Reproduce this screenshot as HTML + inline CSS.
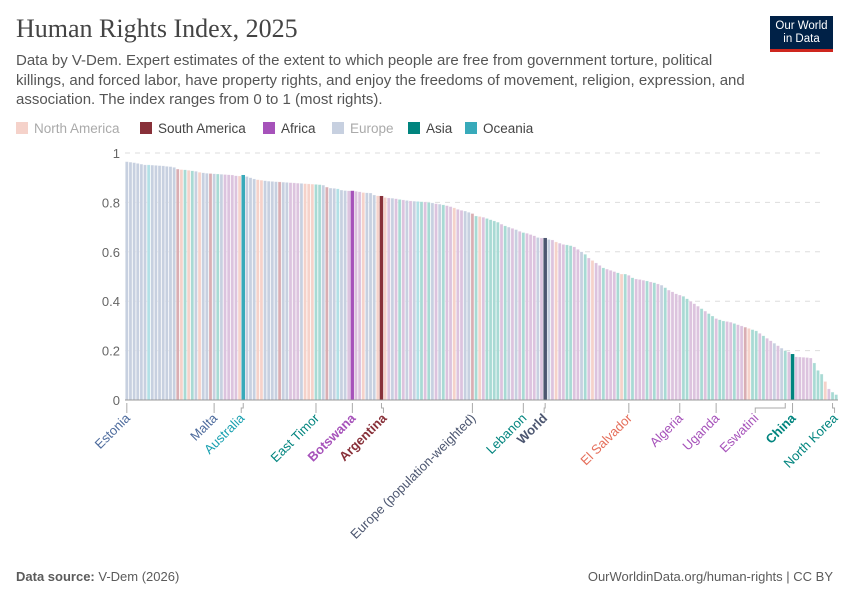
<!DOCTYPE html>
<html><head><meta charset="utf-8"><style>
body{margin:0;background:#fff;font-family:"Liberation Sans",sans-serif;}
#wrap{position:relative;width:850px;height:600px;overflow:hidden;}
.title{position:absolute;left:16px;top:14px;font-family:"Liberation Serif",serif;font-size:26px;color:#444;}
.sub{position:absolute;left:16px;top:51px;width:740px;font-size:15px;line-height:19.5px;color:#555;}
.logo{position:absolute;left:770px;top:16px;width:63px;height:36px;background:#002147;border-bottom:3px solid #ce261e;color:#fff;font-size:11.5px;line-height:13px;text-align:center;padding-top:4px;box-sizing:border-box;}
.foot{position:absolute;top:569px;font-size:13px;color:#5b5b5b;}
</style></head><body>
<div id="wrap">
<div class="title">Human Rights Index, 2025</div>
<div class="sub">Data by V-Dem. Expert estimates of the extent to which people are free from government torture, political killings, and forced labor, have property rights, and enjoy the freedoms of movement, religion, expression, and association. The index ranges from 0 to 1 (most rights).</div>
<div class="logo">Our World<br>in Data</div>
<svg id="chart" width="850" height="600" style="position:absolute;left:0;top:0"></svg>
<div class="foot" style="left:16px"><b>Data source:</b> V-Dem (2026)</div>
<div class="foot" style="right:17px">OurWorldinData.org/human-rights | CC BY</div>
</div>
<script>
const values=[.965,.963,.961,.958,.955,.952,.952,.951,.95,.949,
.948,.946,.945,.942,.935,.933,.932,.930,.928,.926,
.922,.92,.918,.917,.916,.915,.914,.913,.912,.911,
.908,.907,.91,.905,.9,.895,.892,.89,.888,.886,
.885,.884,.883,.882,.881,.88,.879,.878,.877,.876,
.875,.874,.873,.872,.87,.862,.858,.857,.855,.85,
.848,.847,.846,.845,.843,.84,.839,.838,.83,.827,
.825,.82,.818,.817,.815,.812,.81,.808,.806,.805,
.804,.803,.802,.8,.798,.795,.793,.79,.787,.783,
.778,.772,.768,.765,.76,.755,.745,.743,.74,.735,
.73,.725,.72,.712,.705,.70,.695,.69,.683,.678,
.675,.67,.665,.658,.656,.655,.65,.648,.64,.635,
.63,.628,.625,.62,.61,.60,.59,.575,.565,.555,
.545,.535,.53,.525,.52,.515,.51,.51,.505,.495,
.49,.488,.485,.482,.478,.475,.47,.465,.455,.445,
.438,.43,.425,.42,.41,.4,.39,.38,.37,.36,
.35,.34,.33,.325,.32,.318,.315,.31,.305,.30,
.295,.29,.285,.28,.27,.26,.25,.24,.23,.22,
.21,.2,.195,.185,.175,.174,.173,.172,.17,.15,
.12,.105,.075,.045,.032,.022];
const regions=("EEEEEEOEEE"+"EEEEMNSNSE"+"NEEMESEAAA"+"ANOEEENNEE"+"EEMEEAAAEN"+"NNSSEMEEOE"+"EAAAANEEEN"+"MNAEASAEAE"+"OSASEAESAA"+"NAAEEMSNAS"+"SSSASEAEAS"+"AAAEAWEANA"+"ASSAAESANA"+"ASAAASNSAS"+"AAASASAESA"+"AAASSAAASA"+"SSASSAASAA"+"MNSSASAAEA"+"ESASAAAAAS"+"SSNASS").split("");
const highlighted=[32,62,70,115,183];
const labels=[[0,"Estonia","#4c6a9c",0],[24,"Malta","#4c6a9c",0],[32,"Australia","#18a0b0",0],[52,"East Timor","#00847e",0],[62,"Botswana","#a652ba",1],[70,"Argentina","#883039",1],[95,"Europe (population-weighted)","#4c5670",0],[109,"Lebanon","#00847e",0],[115,"World","#4c5670",1],[138,"El Salvador","#e56e5a",0],[152,"Algeria","#a652ba",0],[162,"Uganda","#a652ba",0],[181,"Eswatini","#a652ba",0],[183,"China","#00847e",1],[194,"North Korea","#00847e",0]];
const labelShift={32:-2,70:2,115:-1,181:-30,194:2};
const yTicks=[0,0.2,0.4,0.6,0.8,1];
const faded={N:"#f5d2ca",M:"#d9aeb3",A:"#dcc3de",E:"#c7d0e0",S:"#a8dad4",O:"#b2e0e6",W:"#4c5670"};
const strong={N:"#e56e5a",M:"#883039",A:"#a652ba",E:"#4c6a9c",S:"#00847e",O:"#38aaba",W:"#4c5670"};
const svg=document.getElementById('chart');const NS="http://www.w3.org/2000/svg";
const X0=125,X1=838,Y0=400,Y1=153;
const bw=(X1-X0)/values.length;
const xs=i=>X0+i*bw; const ys=v=>Y0-(Y0-Y1)*v;
function mk(t,a,p){const e=document.createElementNS(NS,t);for(const k in a)e.setAttribute(k,a[k]);(p||svg).appendChild(e);return e;}
yTicks.forEach(t=>{
 const g=mk('line',{x1:X0,x2:825,y1:ys(t),y2:ys(t),stroke:'#ddd','stroke-dasharray':'5,5'});
 
 
 const tx=mk('text',{x:120,y:ys(t)+5,'text-anchor':'end','font-size':13,fill:'#666'});tx.textContent=t===0?'0':(t===1?'1':t.toFixed(1));
 
 
});
values.forEach((v,i)=>{
 const r=regions[i]||'A';const h=highlighted.includes(i);
 const b=mk('rect',{x:xs(i)+0.3,y:ys(v),width:bw-0.6,height:Y0-ys(v),fill:h?strong[r]:faded[r],stroke:h?strong[r]:'#fff','stroke-opacity':h?1:0.5,'stroke-width':0.5});
 
 
});
const ax=mk('line',{x1:X0,x2:X1,y1:Y0,y2:Y0,stroke:'#999'});


labels.forEach(([i,txt,col,bold])=>{
 const bx=xs(i)+bw/2;const lx=bx+(labelShift[i]||0);
 const pl=mk('polyline',{points:lx===bx?`${bx},403 ${bx},413`:`${bx},403 ${bx},408 ${lx},408 ${lx},413`,fill:'none',stroke:'#aaa'});
 
 
 const t=mk('text',{x:lx+4,y:419,'text-anchor':'end','font-size':13,fill:col,'font-weight':bold?'bold':'normal',transform:`rotate(-45 ${lx+4} 419)`});
 t.textContent=txt;
 
 
});
const legend=[["North America","#f5d2ca","#aaa",16],["South America","#883039","#444",140],["Africa","#a652ba","#444",263],["Europe","#c7d0e0","#aaa",332],["Asia","#00847e","#444",408],["Oceania","#38aaba","#444",465]];
legend.forEach(([n,c,tc,x])=>{
 const s=mk('rect',{x:x,y:122,width:12,height:12,fill:c});
 
 
 const t=mk('text',{x:x+18,y:133,'font-size':13.5,fill:tc});t.textContent=n;
 
 
});
</script>
</body></html>
